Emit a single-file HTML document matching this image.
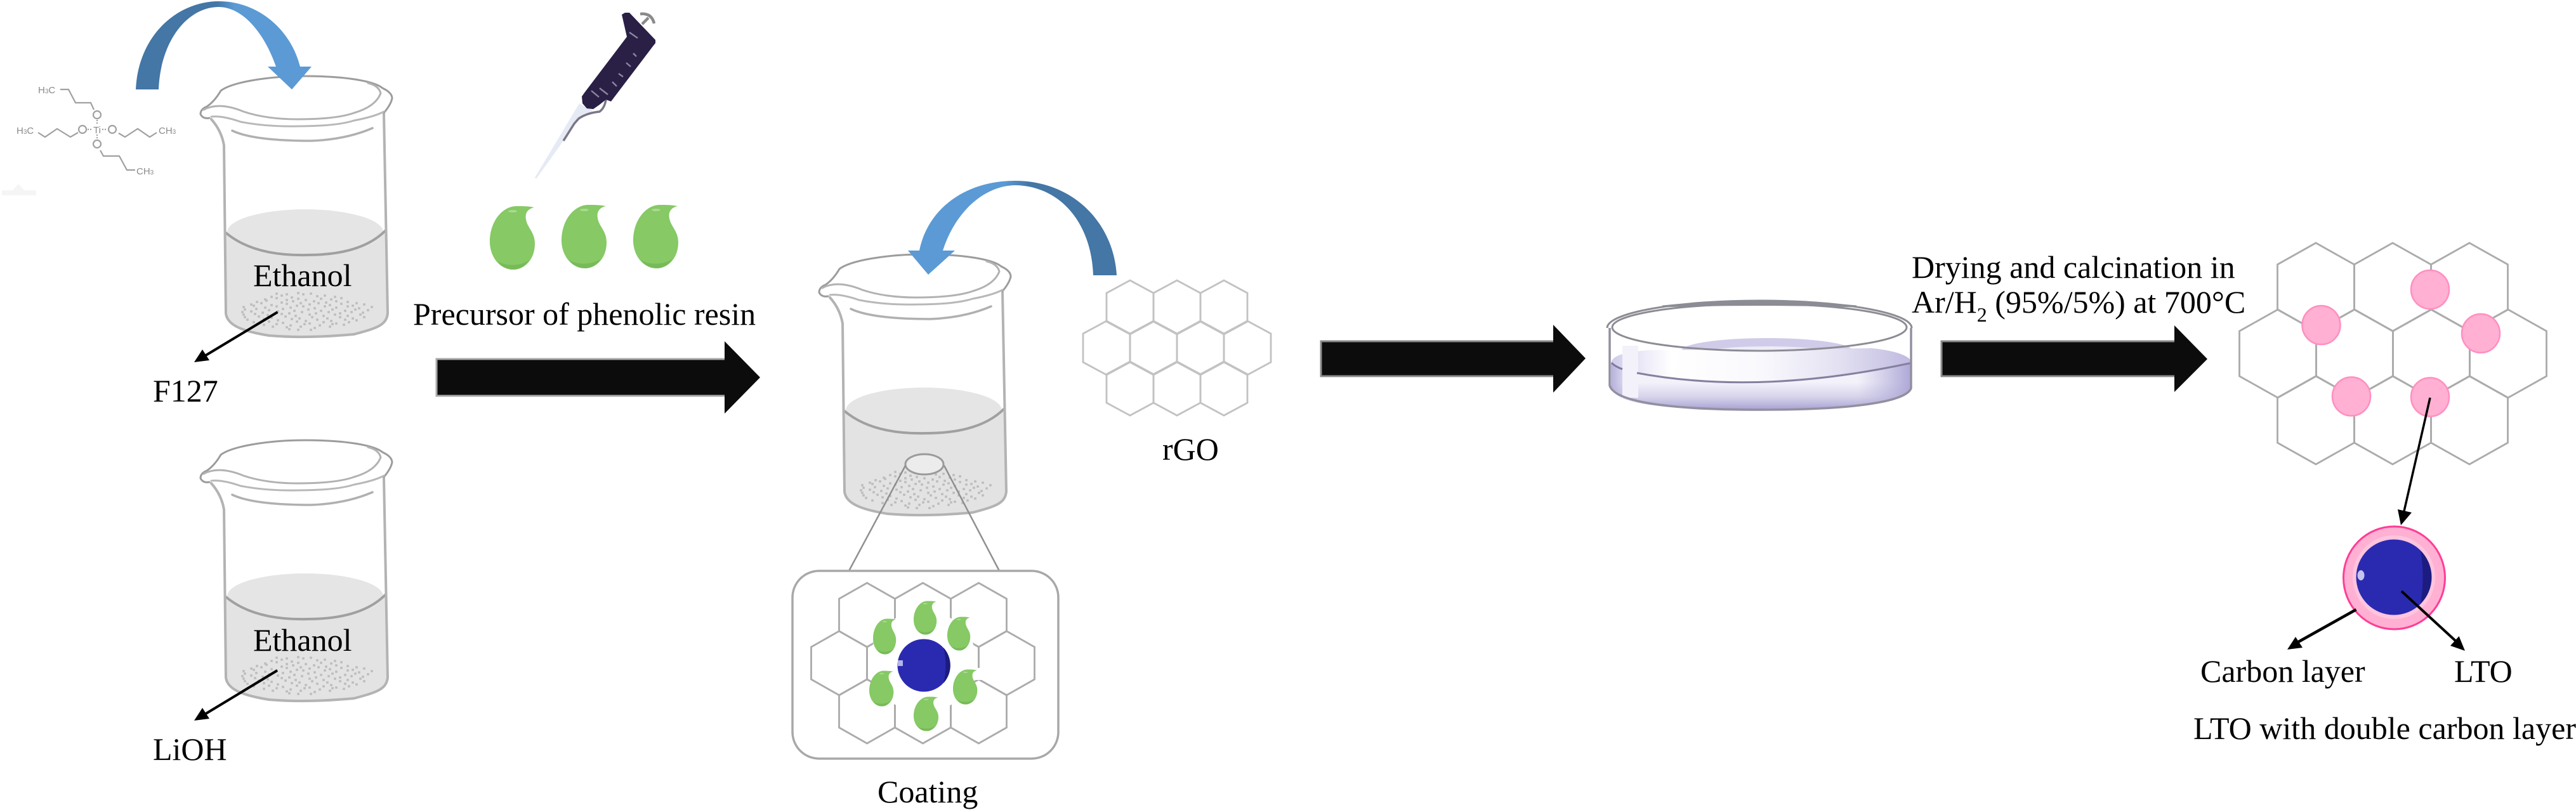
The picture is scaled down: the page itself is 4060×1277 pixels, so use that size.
<!DOCTYPE html>
<html><head><meta charset="utf-8"><style>
html,body{margin:0;padding:0;background:#fff}
svg{display:block}
text{font-family:"Liberation Serif",serif;font-size:50px;fill:#000}
.m{font-family:"Liberation Sans",sans-serif;font-size:15px;fill:#8a8a8a}
</style></head><body>
<svg xmlns="http://www.w3.org/2000/svg" width="4060" height="1277" viewBox="0 0 4060 1277">
<defs>
<linearGradient id="b1" gradientUnits="userSpaceOnUse" x1="214" x2="491" y1="0" y2="0"><stop offset=".46" stop-color="#4476a6"/><stop offset=".56" stop-color="#5b9ad5"/></linearGradient>
<linearGradient id="b2" gradientUnits="userSpaceOnUse" x1="1431" x2="1760" y1="0" y2="0"><stop offset=".46" stop-color="#5b9ad5"/><stop offset=".58" stop-color="#4476a6"/></linearGradient>
<linearGradient id="dv" x1="0" x2="0" y1="0" y2="1"><stop offset=".42" stop-color="#f3f2fa"/><stop offset=".72" stop-color="#d7d4eb"/><stop offset="1" stop-color="#a8a2d3"/></linearGradient>
<linearGradient id="dh" x1="0" x2="1" y1="0" y2="0"><stop offset="0" stop-color="#cfcbe9"/><stop offset=".12" stop-color="#eeedf9"/><stop offset=".2" stop-color="#fff"/><stop offset=".5" stop-color="#f9f9fd"/><stop offset=".75" stop-color="#e4e2f2"/><stop offset="1" stop-color="#bfbae0"/></linearGradient>
<linearGradient id="de" x1="0" x2="1" y1="0" y2="0"><stop offset="0" stop-color="#b5b0db"/><stop offset=".05" stop-color="#b5b0db" stop-opacity=".3"/><stop offset=".09" stop-color="#b5b0db" stop-opacity="0"/><stop offset=".82" stop-color="#b5b0db" stop-opacity="0"/><stop offset="1" stop-color="#aca6d6"/></linearGradient>

<g id="beaker" fill="none" stroke-linecap="round">
  <path d="M353,367 Q420,406 482,402 Q560,404 608,363 L611,494 C609,512 596,515 558,527 Q482,534 424,529 C380,520 360,512 356,494 Z" fill="#e3e3e3" stroke="none"/>
  <ellipse cx="481" cy="366" rx="123" ry="36" fill="#e5e5e5"/>
  <path d="M356,367 Q400,404 484,402 Q570,402 608,363" stroke="#a0a0a0" stroke-width="4"/>
  <path d="M333,188 C342,198 350,212 353,229 L356,494 C358,512 380,522 424,529 Q482,534 558,527 C596,517 609,512 611,494 L605,180" stroke="#b3b3b3" stroke-width="4"/>
  <path d="M330,186 Q320,188 316,180 Q316,172 326,168 Q338,160 348,143 C365,130 420,120 482,120 C545,120 590,128 603,139 Q618,146 618,155 Q616,165 605,178" stroke="#9c9c9c" stroke-width="3"/>
  <path d="M321,173 Q345,160 384,176 Q420,188 469,188 Q530,188 558,178 Q592,168 600,147 Q597,135 580,131" stroke="#b2b2b2" stroke-width="3"/>
  <path d="M333,184 Q350,182 379,192 Q420,200 469,199 Q530,199 558,190 Q590,184 605,176" stroke="#b8b8b8" stroke-width="3"/>
  <path d="M366,206 Q400,222 491,222 Q545,220 587,202" stroke="#b0b0b0" stroke-width="3.5"/>
  <path stroke="#bdbdbd" stroke-width="3.6" stroke-linecap="square" d="M436,463h.1M452,464h.1M470,462h.1M478,464h.1M490,463h.1M428,468h.1M444,466h.1M460,469h.1M500,467h.1M512,466h.1M528,468h.1M418,472h.1M436,470h.1M452,473h.1M470,471h.1M482,473h.1M506,471h.1M522,472h.1M538,470h.1M405,476h.1M420,474h.1M444,477h.1M462,475h.1M474,478h.1M495,475h.1M514,477h.1M530,475h.1M548,476h.1M562,478h.1M396,480h.1M412,478h.1M428,481h.1M452,479h.1M468,482h.1M488,480h.1M502,478h.1M520,481h.1M538,479h.1M556,482h.1M574,480h.1M384,484h.1M400,482h.1M418,485h.1M436,483h.1M458,485h.1M478,483h.1M496,486h.1M512,483h.1M530,485h.1M548,483h.1M566,486h.1M586,484h.1M386,488h.1M404,487h.1M424,489h.1M446,487h.1M464,490h.1M486,488h.1M506,490h.1M524,488h.1M544,490h.1M560,488h.1M580,489h.1M382,492h.1M396,491h.1M414,493h.1M438,491h.1M456,494h.1M476,492h.1M498,494h.1M518,492h.1M536,494h.1M554,492h.1M572,493h.1M384,496h.1M402,495h.1M422,497h.1M444,495h.1M466,498h.1M488,496h.1M510,498h.1M528,496h.1M548,498h.1M568,496h.1M386,500h.1M408,499h.1M428,501h.1M450,499h.1M472,502h.1M492,500h.1M516,502h.1M536,500h.1M556,502h.1M574,500h.1M390,504h.1M416,503h.1M438,505h.1M460,503h.1M482,506h.1M500,504h.1M522,506h.1M544,504h.1M562,505h.1M400,508h.1M424,507h.1M446,509h.1M468,507h.1M488,510h.1M510,508h.1M530,510h.1M550,508h.1M416,512h.1M436,511h.1M458,513h.1M480,511h.1M504,513h.1M524,511h.1M542,512h.1M430,515h.1M452,516h.1M474,515h.1M496,517h.1M520,515h.1M456,519h.1M470,520h.1M490,520h.1"/>
</g>

<g id="drop">
  <path d="M70,3 C60,5 55,12 57,22 C59,35 71,42 71,60 C71,85 55,101 37,101 C15,101 0,80 0,57 C0,25 20,1 42,1 C52,1 62,1 70,3Z" fill="#86c965"/>
  <path d="M62,86 C55,96 47,101 37,101 C27,101 19,97 12,88 C25,96 48,96 62,86Z" fill="#77bb58"/>
  <ellipse cx="36" cy="9" rx="7" ry="2" fill="#a9da90"/>
</g>

<polygon id="h1" points="0,-42.5 37,-22.5 37,22.5 0,42.5 -37,22.5 -37,-22.5" fill="none" stroke="#c2c2c2" stroke-width="2.8"/>
<polygon id="h2" points="0,-50.5 44,-25.5 44,25.5 0,50.5 -44,25.5 -44,-25.5" fill="none" stroke="#ababab" stroke-width="2.8"/>
<polygon id="h3" points="0,-69.5 60.5,-35.5 60.5,35.5 0,69.5 -60.5,35.5 -60.5,-35.5" fill="none" stroke="#ababab" stroke-width="2.8"/>
<g id="pk"><ellipse rx="30" ry="30.5" fill="#ffb0d3" stroke="#ff8fc0" stroke-width="2.5"/></g>
</defs>

<rect width="4060" height="1277" fill="#fff"/>

<!-- Beakers -->
<use href="#beaker"/>
<use href="#beaker" transform="translate(0,574)"/>
<use href="#beaker" transform="translate(975,281)"/>

<!-- Blue arrows -->
<path d="M214,141 C218,55 280,2 345,2 C405,2 458,45 473,105 L491,105 L460,141 L422,105 L435,105 C415,48 380,11 345,11 C295,11 253,65 250,141 Z" fill="url(#b1)"/>
<path d="M1760,434 C1755,350 1690,285 1600,285 C1520,285 1462,330 1449,395 L1431,395 L1463,433 L1505,395 L1486,395 C1505,335 1550,293 1600,292 C1670,293 1720,350 1723,434Z" fill="url(#b2)"/>

<!-- Molecule -->
<g fill="none" stroke="#a0a0a0" stroke-width="2.2">
  <path d="M95,141 H108 L119,162 H143 L148,173"/>
  <path d="M60,209 L71,216 L90,203 L111,216 L123,209"/>
  <path d="M187,210 L197,216 L217,203 L236,216 L247,209"/>
  <path d="M158,237 L163,246 H188 L200,268 H213"/>
  <path d="M153,189 V196 M153,212 V219 M138,204 H145 M161,204 H169" stroke-dasharray="2 2"/>
  <circle cx="153" cy="181" r="6"/><circle cx="130" cy="204" r="6"/><circle cx="177" cy="204" r="6"/><circle cx="153" cy="227" r="6"/>
</g>
<text class="m" x="60" y="147">H<tspan font-size="10">3</tspan>C</text>
<text class="m" x="26" y="211">H<tspan font-size="10">3</tspan>C</text>
<text class="m" x="250" y="211">CH<tspan font-size="10">3</tspan></text>
<text class="m" x="215" y="275">CH<tspan font-size="10">3</tspan></text>
<text class="m" x="147" y="210">Ti</text>
<path d="M3,308 H57 V300 H38 L29,290 L20,300 H3Z" fill="#f5f5f5"/>

<!-- Pipette -->
<path d="M913,163 L935,175 L920,180 L905,195 L888,222 L845,282 L843,280 Z" fill="#e6eaf4"/>
<path d="M888,222 L905,195 L912,187 Q925,178 945,176 Q953,170 955,157" stroke="#7b7588" stroke-width="3.5" fill="none"/>
<path d="M980,23 L985,20 L992,20 L1033,63 L1033,68 L1029,73 L963,160 L955,157 L945,165 L935,172 L925,171 L918,163 L917,152 L922,145 L988,58 Z" fill="#2a1f45"/>
<g stroke="#8c86a0" stroke-width="2.4" fill="none">
  <path d="M992,51L1005,60M998,84L1003,89M987,99L994,105M975,116L982,121M965,129L972,136M945,139L958,149M932,143L944,153"/>
</g>
<path d="M1009,22 Q1027,20 1031,37 M1012,38 L1022,28" stroke="#8a8a8a" stroke-width="4.5" fill="none"/>

<!-- Drops -->
<use href="#drop" transform="translate(772,324)"/>
<use href="#drop" transform="translate(885,322)"/>
<use href="#drop" transform="translate(998,322)"/>

<!-- Big arrows -->
<rect x="688" y="566" width="456" height="58" fill="#0c0c0c" stroke="#a8a8a8" stroke-width="3"/>
<polygon points="1142,538 1198,595 1142,652" fill="#0c0c0c"/>
<rect x="2082" y="538" width="368" height="55" fill="#0c0c0c" stroke="#8a8a8a" stroke-width="3"/>
<polygon points="2448,512 2499,565 2448,619" fill="#0c0c0c"/>
<rect x="3060" y="538" width="369" height="55" fill="#0c0c0c" stroke="#8a8a8a" stroke-width="3"/>
<polygon points="3427,513 3479,566 3427,618" fill="#0c0c0c"/>

<!-- Small thin arrows -->
<g stroke="#000" fill="#000">
  <line x1="437.5" y1="492" x2="318" y2="564" stroke-width="4"/><polygon points="306,571 319,551 330,568" stroke="none"/>
  <line x1="437" y1="1057" x2="318" y2="1129" stroke-width="4"/><polygon points="306,1136 319,1116 330,1133" stroke="none"/>
</g>

<!-- Zoom-lens -->
<ellipse cx="1457" cy="732" rx="30" ry="16" fill="#ececec" stroke="#9a9a9a" stroke-width="3"/>
<g stroke="#8f8f8f" stroke-width="2.5"><line x1="1427" y1="734" x2="1338" y2="900"/><line x1="1488" y1="734" x2="1575" y2="900"/></g>
<rect x="1249" y="900" width="419" height="296" rx="42" ry="42" fill="#fff" stroke="#a8a8a8" stroke-width="3.5"/>

<!-- Coating hexes -->
<use href="#h2" x="1366.5" y="969.5"/><use href="#h2" x="1454.5" y="969.5"/><use href="#h2" x="1542.5" y="969.5"/>
<use href="#h2" x="1322.5" y="1045.5"/><use href="#h2" x="1410.5" y="1045.5"/><use href="#h2" x="1498.5" y="1045.5"/><use href="#h2" x="1586.5" y="1045.5"/>
<use href="#h2" x="1366.5" y="1121.5"/><use href="#h2" x="1454.5" y="1121.5"/><use href="#h2" x="1542.5" y="1121.5"/>
<ellipse cx="1455" cy="1043" rx="84" ry="80" fill="#fff"/>
<rect x="1536" y="1053" width="12" height="19" fill="#fff"/>
<use href="#drop" transform="translate(1440,947) scale(.51,.53)"/>
<use href="#drop" transform="translate(1376,975) scale(.51,.56)"/>
<use href="#drop" transform="translate(1493,972) scale(.51,.53)"/>
<use href="#drop" transform="translate(1370,1057) scale(.54,.56)"/>
<use href="#drop" transform="translate(1502,1055) scale(.54,.55)"/>
<use href="#drop" transform="translate(1440,1098) scale(.55,.54)"/>
<circle cx="1456" cy="1049" r="41.5" fill="#2a2ab0"/>
<path d="M1487,1021 A41.5,41.5 0 0 1 1487,1077 Q1494,1049 1487,1021Z" fill="#1b1b80"/>
<rect x="1415" y="1041" width="8" height="9" fill="#b4b4ea"/>

<!-- rGO -->
<use href="#h1" x="1781" y="484.5"/><use href="#h1" x="1855" y="484.5"/><use href="#h1" x="1929" y="484.5"/>
<use href="#h1" x="1744" y="548.5"/><use href="#h1" x="1818" y="548.5"/><use href="#h1" x="1892" y="548.5"/><use href="#h1" x="1966" y="548.5"/>
<use href="#h1" x="1781" y="612.5"/><use href="#h1" x="1855" y="612.5"/><use href="#h1" x="1929" y="612.5"/>

<!-- Petri dish -->
<ellipse cx="2785" cy="553" rx="135" ry="20" fill="#cfcbe9"/>
<ellipse cx="2785" cy="558" rx="105" ry="12" fill="#ecebf7"/>
<path d="M2539,572 C2542,560 2560,555 2600,552 L2950,549 C2990,553 3012,562 3013,572 Q2773,624 2580,588 Z" fill="url(#dh)"/>
<path d="M2539,572 L2580,588 Q2773,624 3013,572 V612 C3000,640 2900,646 2775,646 C2640,646 2550,640 2539,612Z" fill="url(#dv)"/>
<path d="M2539,572 L2580,588 Q2773,624 3013,572 V612 C3000,640 2900,646 2775,646 C2640,646 2550,640 2539,612Z" fill="url(#de)"/>
<rect x="2557" y="545" width="25" height="82" fill="#f3f2fb"/>
<path d="M2540,572 Q2546,578 2557,582" stroke="#7e79a0" stroke-width="3" fill="none"/>
<path d="M2580,588 Q2773,624 3013,572" stroke="#85809f" stroke-width="3" fill="none"/>
<path d="M2533,517 A240,43 0 0 1 3013,517" stroke="#8c8c94" stroke-width="3" fill="none"/>
<ellipse cx="2773" cy="516" rx="232" ry="37" fill="none" stroke="#8c8c94" stroke-width="3"/>
<path d="M2620,483 Q2773,468 2926,483 Q2773,478 2620,483Z" fill="#8c8c94" stroke="#8c8c94" stroke-width="3"/>
<path d="M2537,517 V608 C2545,632 2620,646 2775,646 C2930,646 3005,632 3012,612 V517" stroke="#928fa0" stroke-width="3.5" fill="none"/>

<!-- Final graphene -->
<use href="#h3" x="3650" y="452.5"/><use href="#h3" x="3771" y="452.5"/><use href="#h3" x="3892" y="452.5"/>
<use href="#h3" x="3590" y="557.5"/><use href="#h3" x="3711" y="557.5"/><use href="#h3" x="3832" y="557.5"/><use href="#h3" x="3953" y="557.5"/>
<use href="#h3" x="3650" y="662.5"/><use href="#h3" x="3771" y="662.5"/><use href="#h3" x="3892" y="662.5"/>
<use href="#pk" x="3658.5" y="512.5"/><use href="#pk" x="3830" y="456.5"/><use href="#pk" x="3910" y="525.5"/><use href="#pk" x="3706" y="625"/><use href="#pk" x="3830" y="626"/>

<!-- Core-shell -->
<ellipse cx="3773.5" cy="911" rx="80" ry="81" fill="#ffb0d3" stroke="#ff3d96" stroke-width="3"/>
<ellipse cx="3773" cy="910" rx="65" ry="66" fill="#ffc4de"/>
<ellipse cx="3773" cy="910" rx="59.5" ry="59.5" fill="#2a2ab0"/>
<path d="M3815,868 A59.5,59.5 0 0 1 3815,952 Q3822,910 3815,868Z" fill="#1c1c80"/>
<ellipse cx="3721" cy="907" rx="5.5" ry="8" fill="#c4c4ee"/>

<g stroke="#000" fill="#000">
  <line x1="3830" y1="627" x2="3789" y2="806" stroke-width="3.5"/>
  <polygon points="3784,828 3779,803 3801,808" stroke="none"/>
  <line x1="3713.5" y1="961" x2="3617" y2="1015" stroke-width="4.5"/>
  <polygon points="3605,1024 3618,1004 3629,1021" stroke="none"/>
  <line x1="3785" y1="932" x2="3872" y2="1012" stroke-width="4"/>
  <polygon points="3885,1026 3875.6,1003 3862,1018" stroke="none"/>
</g>

<!-- Labels -->
<text x="399" y="451">Ethanol</text>
<text x="399" y="1026">Ethanol</text>
<text x="241" y="633">F127</text>
<text x="241" y="1198">LiOH</text>
<text x="651" y="512">Precursor of phenolic resin</text>
<text x="1832" y="725">rGO</text>
<text x="1383" y="1265">Coating</text>
<text x="3013" y="438">Drying and calcination in</text>
<text x="3013" y="493">Ar/H<tspan dy="14" font-size="32">2</tspan><tspan dy="-14"> (95%/5%) at 700°C</tspan></text>
<text x="3468" y="1075">Carbon layer</text>
<text x="3868" y="1075">LTO</text>
<text x="3457" y="1165" textLength="603" lengthAdjust="spacingAndGlyphs">LTO with double carbon layer</text>
</svg>
</body></html>
